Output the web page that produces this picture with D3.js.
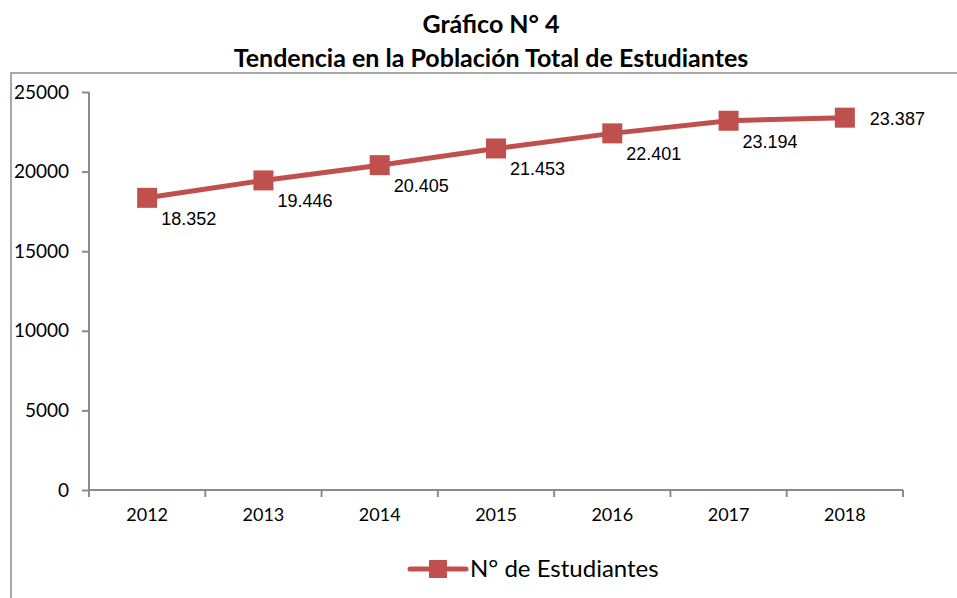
<!DOCTYPE html>
<html>
<head>
<meta charset="utf-8">
<script src="https://cdn.jsdelivr.net/npm/d3@7"></script>
<style>
  body { margin: 0; background: #fff; }
  svg { display: block; }
</style>
</head>
<body>
<div id="chart"></div>
<script>
const width = 957;
const height = 598;

// datos
const years = ["2012", "2013", "2014", "2015", "2016", "2017", "2018"];
const students = [18352, 19446, 20405, 21453, 22401, 23194, 23387];
const yTicks = [0, 5000, 10000, 15000, 20000, 25000];
const seriesName = "N° de Estudiantes";
const titleLines = ["Gráfico N° 4", "Tendencia en la Población Total de Estudiantes"];

const red = "#c0504d";
const grey = "#8c8c8c";
const axisFont = "Lato, 'Open Sans', sans-serif";

let svg = d3.select("#chart").append("svg")
    .attr("width", width)
    .attr("height", height);

// titulo
svg.selectAll("text.title")
    .data(titleLines)
    .enter()
    .append("text")
    .attr("class", "title")
    .attr("x", 491)
    .attr("y", (d, i) => 33 + i * 34)
    .attr("text-anchor", "middle")
    .style("font-family", axisFont)
    .style("font-weight", "bold")
    .style("font-size", "25px")
    .attr("fill", "#000")
    .text(d => d);

// marco del grafico
svg.append("rect")
    .attr("x", 11)
    .attr("y", 73)
    .attr("width", 960)
    .attr("height", 540)
    .attr("fill", "none")
    .attr("stroke", grey)
    .attr("stroke-width", 1.5);

let xScale = d3.scaleBand()
    .domain(years)
    .range([89, 903]);

let yScale = d3.scaleLinear()
    .domain([0, 25000])
    .range([490, 92]);

// eje y
let yAxis = svg.append("g")
    .attr("transform", "translate(89,0)")
    .call(d3.axisLeft(yScale).tickValues(yTicks).tickSize(7).tickPadding(13).tickFormat(d3.format("d")));

// eje x
let xAxis = svg.append("g")
    .attr("transform", "translate(0,490)")
    .call(d3.axisBottom(xScale).tickSize(0).tickPadding(18));

// ticks entre categorias
xAxis.selectAll("line.sep")
    .data(d3.range(years.length + 1))
    .enter()
    .append("line")
    .attr("class", "sep")
    .attr("x1", i => 89 + i * xScale.step())
    .attr("x2", i => 89 + i * xScale.step())
    .attr("y1", 0)
    .attr("y2", 7);

[yAxis, xAxis].forEach(ax => {
    ax.select(".domain").attr("stroke", grey).attr("stroke-width", 2);
    ax.selectAll("line").attr("stroke", grey).attr("stroke-width", 2);
    ax.selectAll("text")
        .style("font-family", axisFont)
        .style("font-size", "18px")
        .attr("fill", "#000");
});
yAxis.selectAll("text").style("font-size", "19px");
xAxis.select(".domain").attr("d", "M89,0H903");
yAxis.select(".domain").attr("d", "M0,92V490");

const cx = (d, i) => xScale(years[i]) + xScale.bandwidth() / 2;

let line = d3.line()
    .x((d, i) => cx(d, i))
    .y(d => yScale(d));

svg.append("path")
    .datum(students)
    .attr("d", line)
    .attr("fill", "none")
    .attr("stroke", red)
    .attr("stroke-width", 5)
    .attr("stroke-linejoin", "round");

svg.selectAll("rect.marker")
    .data(students)
    .enter()
    .append("rect")
    .attr("class", "marker")
    .attr("x", (d, i) => cx(d, i) - 10)
    .attr("y", d => yScale(d) - 10)
    .attr("width", 20)
    .attr("height", 20)
    .attr("fill", red);

// etiquetas de datos (formato con punto de miles)
const fmt = d => d3.format(",")(d).replace(/,/g, ".");
const last = students.length - 1;

svg.selectAll("text.label")
    .data(students)
    .enter()
    .append("text")
    .attr("class", "label")
    .attr("x", (d, i) => i === last ? cx(d, i) + 25 : cx(d, i) + 14)
    .attr("y", (d, i) => i === last ? yScale(d) + 7 : yScale(d) + 27)
    .style("font-family", "'Liberation Sans', Arial, sans-serif")
    .style("font-size", "18px")
    .attr("fill", "#000")
    .text(fmt);

// leyenda
let legend = svg.append("g").attr("transform", "translate(410,569)");
legend.append("line")
    .attr("x1", 0).attr("x2", 56)
    .attr("y1", 0).attr("y2", 0)
    .attr("stroke", red)
    .attr("stroke-width", 5)
    .attr("stroke-linecap", "round");
legend.append("rect")
    .attr("x", 19).attr("y", -9)
    .attr("width", 18).attr("height", 18)
    .attr("fill", red);
legend.append("text")
    .attr("x", 60)
    .attr("y", 8)
    .style("font-family", axisFont)
    .style("font-size", "24px")
    .attr("fill", "#000")
    .text(seriesName);
</script>
</body>
</html>
